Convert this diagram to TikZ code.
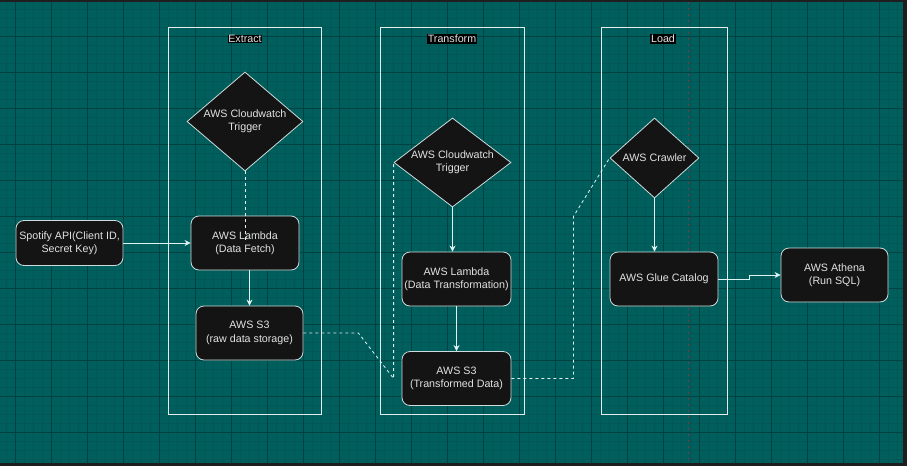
\documentclass[tikz,border=0pt]{standalone}
\usepackage{fontspec}
\setmainfont{Liberation Sans}
\usetikzlibrary{arrows.meta,shapes.geometric,positioning}

\definecolor{canvas}{RGB}{0,95,93}
\definecolor{minorgrid}{RGB}{0,87,85}
\definecolor{majorgrid}{RGB}{0,66,66}
\definecolor{frame}{RGB}{30,30,30}
\definecolor{boxfill}{RGB}{20,20,20}
\definecolor{boxline}{RGB}{205,220,220}
\definecolor{fgtext}{RGB}{226,226,226}
\definecolor{wire}{RGB}{225,242,242}
\definecolor{laneline}{RGB}{228,236,236}
\definecolor{pagebreak}{RGB}{125,55,65}

\begin{document}
\begin{tikzpicture}[x=1pt, y=-1pt, node distance=100pt, on grid, auto,
    every node/.style={text=fgtext, font=\fontsize{10.7}{13.3}\selectfont},
    svc/.style={draw=boxline, fill=boxfill, rounded corners=8pt, minimum width=108pt,
        minimum height=54pt, align=center, inner sep=0pt, line width=0.8pt},
    trig/.style={diamond, draw=boxline, fill=boxfill, align=center, inner sep=0pt, line width=0.8pt},
    lanetitle/.style={fill=black, inner sep=0.7pt},
    flow/.style={draw=wire, line width=0.8pt, -{Stealth[length=6pt, width=6pt]}},
    link/.style={draw=wire, line width=0.8pt, dash pattern=on 3pt off 3pt}]
    \useasboundingbox (0,0) rectangle (907,466);
    \fill[frame] (0,0) rectangle (907,466);
    \fill[canvas] (0,1.5) rectangle (902.5,463);
    \foreach \x in {6,15,...,902} \draw[minorgrid, line width=0.5pt] (\x,1.5) -- (\x,463);
    \foreach \y in {9,18,...,459} \draw[minorgrid, line width=0.5pt] (0,\y) -- (902.5,\y);
    \foreach \x in {15,51,...,879} \draw[majorgrid, line width=0.9pt] (\x,1.5) -- (\x,463);
    \foreach \y in {36,72,...,432} \draw[majorgrid, line width=0.9pt] (0,\y) -- (902.5,\y);
    \draw[pagebreak, line width=0.9pt, dash pattern=on 2pt off 4pt] (688,1.5) -- (688,463);

    \draw[laneline, line width=1pt] (168,27) rectangle (321,414);
    \draw[laneline, line width=1pt] (380,27) rectangle (524,414);
    \draw[laneline, line width=1pt] (601,27) rectangle (727,414);
    \node[lanetitle] (extract) at (245,39) {Extract};
    \node[lanetitle] (transform) at (452,39) {Transform};
    \node[lanetitle] (load) at (663,39) {Load};

    \node[svc, minimum width=107pt, minimum height=45pt] (spotify) at (69.5,243) {Spotify API(Client ID,\\Secret Key)};
    \node[trig, minimum width=116pt, minimum height=99pt, aspect=1.17] (cw1) at (245,121.5) {AWS Cloudwatch\\Trigger};
    \node[svc, below=121.5pt of cw1] (fetch) {AWS Lambda\\(Data Fetch)};
    \node[svc, minimum width=107pt] (raw) at (249.5,333) {AWS S3\\(raw data storage)};

    \node[trig, minimum width=117pt, minimum height=89pt, aspect=1.31] (cw2) at (452.5,162.5) {AWS Cloudwatch\\Trigger};
    \node[svc, minimum width=109pt] (tfm) at (456.5,279) {AWS Lambda\\(Data Transformation)};
    \node[svc, minimum width=109pt, below=99.5pt of tfm] (tdata) {AWS S3\\(Transformed Data)};

    \node[trig, minimum width=89pt, minimum height=80pt, aspect=1.11] (crawler) at (654.5,158) {AWS Crawler};
    \node[svc] (glue) at (664,279) {AWS Glue Catalog};
    \node[svc, minimum width=107pt] (athena) at (834.5,275) {AWS Athena\\(Run SQL)};

    \draw[flow] (spotify.east) -- (fetch.west);
    \draw[link] (cw1.south) -- (fetch.center);
    \draw[flow] (fetch.south -| raw) -- (raw.north);
    \draw[link] (raw.east) -- ++(55,0) -- (cw2.west |- tdata.center) -- (cw2.west);
    \draw[flow] (cw2.south) -- (cw2.south |- tfm.north);
    \draw[flow] (tfm.south) -- (tdata.north);
    \draw[link] (tdata.east) -- ++(62,0) -- ++(0,-162) -- (crawler.west);
    \draw[flow] (crawler.south) -- (crawler.south |- glue.north);
    \draw[flow] (glue.east) -- ++(31,0) |- (athena.west);
\end{tikzpicture}
\end{document}
